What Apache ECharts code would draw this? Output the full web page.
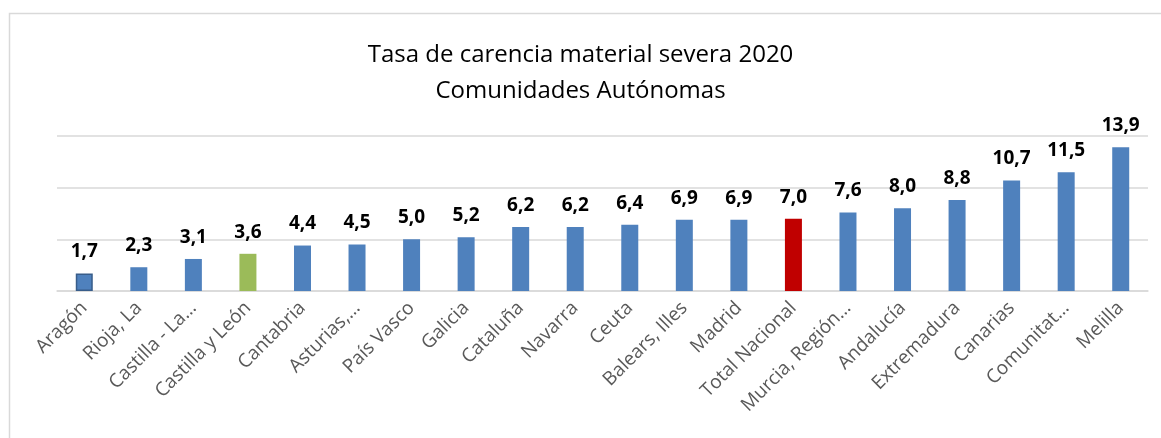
<!DOCTYPE html>
<html>
<head>
<meta charset="utf-8">
<script src="https://cdn.jsdelivr.net/npm/echarts@6/dist/echarts.min.js"></script>
<style>
html,body{margin:0;padding:0;background:#fff}
#chart{width:1161px;height:438px}
</style>
</head>
<body>
<div id="chart"></div>
<script>
// datos
var regiones = ['Aragón','Rioja, La','Castilla - La…','Castilla y León','Cantabria','Asturias,…','País Vasco','Galicia','Cataluña','Navarra','Ceuta','Balears, Illes','Madrid','Total Nacional','Murcia, Región…','Andalucía','Extremadura','Canarias','Comunitat…','Melilla']
var tasa = [1.7,2.3,3.1,3.6,4.4,4.5,5.0,5.2,6.2,6.2,6.4,6.9,6.9,7.0,7.6,8.0,8.8,10.7,11.5,13.9]
var colores = {'Castilla y León':'#9bbb59','Total Nacional':'#c00000'}

var chart = echarts.init(document.getElementById('chart'))

var datos = tasa.map(function(v, i){
	var c = colores[regiones[i]] || '#4f81bd'
	var d = {value: v, itemStyle: {color: c}}
	if(i == 0){
		d.itemStyle.borderColor = '#385d8a'
		d.itemStyle.borderWidth = 1.5
	}
	return d
})

var option = {
	animation: false,
	title: {
		text: 'Tasa de carencia material severa 2020\nComunidades Autónomas',
		left: 'center',
		top: 32,
		textStyle: {
			fontFamily: 'Open Sans',
			fontWeight: 'normal',
			fontSize: 24,
			lineHeight: 36,
			color: '#000'
		}
	},
	graphic: [{
		type: 'rect',
		shape: {x: 9.5, y: 13.5, width: 1300, height: 600},
		style: {fill: 'none', stroke: '#d9d9d9', lineWidth: 1.5},
		silent: true
	}],
	grid: {
		left: 57,
		right: 13,
		top: 136,
		bottom: 147
	},
	xAxis: {
		type: 'category',
		data: regiones,
		axisTick: {show: false},
		axisLine: {lineStyle: {color: '#d9d9d9', width: 1.5}},
		axisLabel: {
			interval: 0,
			rotate: 45,
			margin: 14,
			fontFamily: 'Open Sans',
			fontSize: 19,
			color: '#595959'
		}
	},
	yAxis: {
		type: 'value',
		min: 0,
		max: 15,
		interval: 5,
		axisLabel: {show: false},
		axisLine: {show: false},
		axisTick: {show: false},
		splitLine: {lineStyle: {color: '#d9d9d9', width: 1.5}}
	},
	series: [{
		type: 'bar',
		data: datos,
		barWidth: 17,
		label: {
			show: true,
			position: 'top',
			distance: 12,
			fontFamily: 'Open Sans',
			fontWeight: 'bold',
			fontSize: 19,
			color: '#000',
			formatter: function(p){ return p.value.toFixed(1).replace('.', ',') }
		}
	}]
}
chart.setOption(option)
</script>
</body>
</html>
